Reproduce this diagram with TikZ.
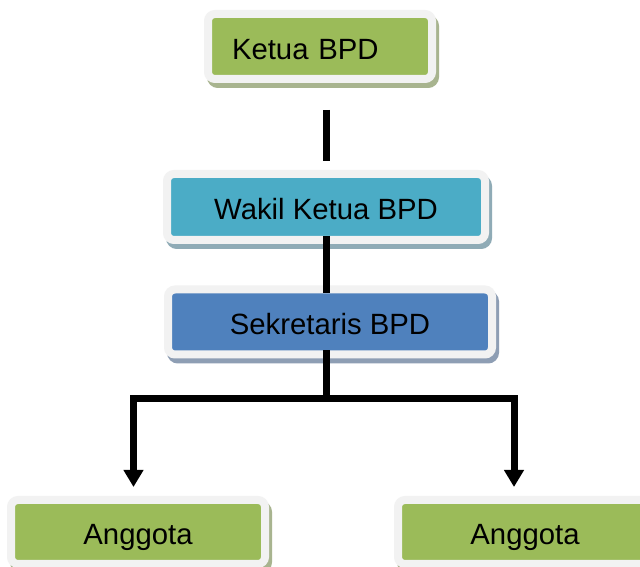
\documentclass[tikz,border=0pt]{standalone}
\usepackage{fontspec}
\setmainfont{Liberation Sans}
\usetikzlibrary{arrows.meta}
\definecolor{bpdgreen}{HTML}{9BBB59}
\definecolor{bpdteal}{HTML}{4BACC6}
\definecolor{bpdblue}{HTML}{4F81BD}
\definecolor{rimgray}{HTML}{F2F2F2}
\definecolor{greenshadow}{HTML}{A8B48F}
\definecolor{tealshadow}{HTML}{8FABB6}
\definecolor{blueshadow}{HTML}{8E9EB4}
\tikzset{
  box/.style={draw=rimgray, line width=8pt, rounded corners=7pt, inner sep=0pt, outer sep=0pt,
    minimum height=65pt, text height=30pt, text depth=4pt, font=\fontsize{29.3}{35}\selectfont},
  boxshadow/.style={preaction={fill=#1, draw=#1, transform canvas={shift={(3pt,-5pt)}}}},
  link/.style={line width=7pt},
  arrowlink/.style={line width=7pt, -{Triangle[width=19pt,length=17pt]}}
}
\begin{document}
\begin{tikzpicture}[x=1pt, y=1pt]
    \useasboundingbox (0,0) rectangle (640,567);
    \fill[white] (0,0) rectangle (640,567);
    \clip (0,0) rectangle (640,567);
    \node[box, boxshadow=greenshadow, fill=bpdgreen, minimum width=224pt, text width=176pt, align=left] (ketua) at (320,520.5) {Ketua BPD};
    \node[box, boxshadow=tealshadow, fill=bpdteal, minimum width=318pt, minimum height=66pt] (wakil) at (326,360) {Wakil Ketua BPD};
    \node[box, boxshadow=blueshadow, fill=bpdblue, minimum width=324pt] (sek) at (330,245) {Sekretaris BPD};
    \node[box, boxshadow=greenshadow, fill=bpdgreen, minimum width=254pt, minimum height=64pt] (angL) at (138,35) {Anggota};
    \node[box, boxshadow=greenshadow, fill=bpdgreen, minimum width=254pt, minimum height=64pt] (angR) at (525,35) {Anggota};
    \coordinate (split) at (326,168);
    \draw[link] ([yshift=-31pt]ketua.south -| wakil) -- ([yshift=13pt]wakil.north);
    \draw[link] ([yshift=4pt]wakil.south) -- ([yshift=-4pt]sek.north -| wakil.south);
    \draw[link] ([yshift=4pt]sek.south -| wakil.south) -- (split);
    \draw[arrowlink] (split) -| ([xshift=-4.5pt,yshift=13pt]angL.north);
    \draw[arrowlink] (split) -| ([xshift=-11pt,yshift=13pt]angR.north);
\end{tikzpicture}
\end{document}
